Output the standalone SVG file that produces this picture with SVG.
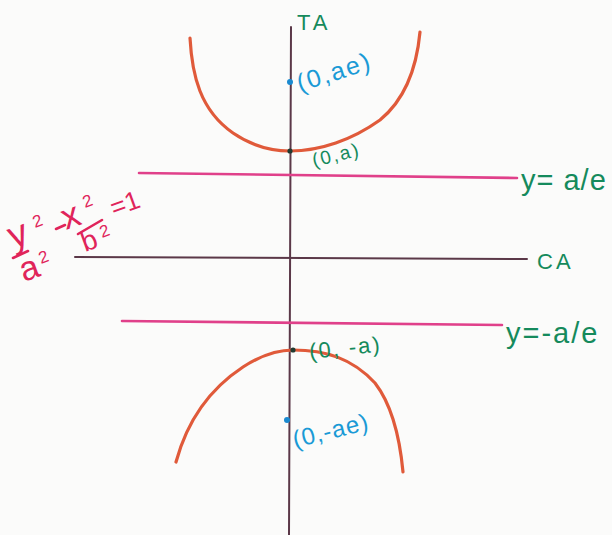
<svg xmlns="http://www.w3.org/2000/svg" width="612" height="535" viewBox="0 0 612 535">
<defs>
<style>
.axis{stroke:#5b3848;stroke-width:2;fill:none;stroke-linecap:round}
.dir{stroke:#e0408a;stroke-width:2.6;fill:none;stroke-linecap:round}
.curve{stroke:#e05a3a;stroke-width:3.2;fill:none;stroke-linecap:round}
.lbl{font-family:"Liberation Sans",Arial,sans-serif;fill:#158a5c}
.blue{font-family:"Liberation Sans",Arial,sans-serif;fill:#1a9ad6}
.eq{font-family:"Liberation Sans",Arial,sans-serif;fill:#e0245a}
.eqs{stroke:#e0245a;stroke-width:2.6;fill:none;stroke-linecap:round}
</style>
</defs>
<rect width="612" height="535" fill="#fbfbfa"/>
<g id="connectors">
<path id="transverse-axis" class="axis" d="M291,27 L289,535"/>
<path id="conjugate-axis" class="axis" d="M75,257 L527,259"/>
<path id="directrix-upper" class="dir" d="M139,173 L517,178"/>
<path id="directrix-lower" class="dir" d="M122,321 L502,325"/>
</g>
<g id="upper-branch">
<path class="curve" d="M190,38 C192,75 200,110 233,133 C252,146 272,151 290,151 C320,151 352,140 380,120 C402,102 416,75 420,32"/>
</g>
<g id="lower-branch">
<path class="curve" d="M176,462 C186,425 205,392 243,367 C260,356 276,350 293,350 C325,350 352,358 375,383 C392,405 400,440 403,472"/>
</g>
<g id="focus-upper">
<circle cx="290" cy="82" r="3" fill="#1a8ad0"/>
<text class="blue" font-size="25" letter-spacing="2" transform="translate(300,92) rotate(-18)">(0,ae)</text>
</g>
<g id="vertex-upper">
<circle cx="290" cy="151" r="2.6" fill="#203a30"/>
<text class="lbl" font-size="19" letter-spacing="2" transform="translate(314,167) rotate(-14)">(0,a)</text>
</g>
<g id="vertex-lower">
<circle cx="293" cy="350" r="2.6" fill="#203a30"/>
<text class="lbl" font-size="22" letter-spacing="2" transform="translate(310,359) rotate(-6)">(0, -a)</text>
</g>
<g id="focus-lower">
<circle cx="287" cy="420" r="3" fill="#1a8ad0"/>
<text class="blue" font-size="24" letter-spacing="1" transform="translate(295,448) rotate(-14)">(0,-ae)</text>
</g>
<g id="label-TA">
<text class="lbl" font-size="22" letter-spacing="4" x="297" y="30">TA</text>
</g>
<g id="label-CA">
<text class="lbl" font-size="22" letter-spacing="3" x="537" y="269">CA</text>
</g>
<g id="label-directrix-upper">
<text class="lbl" font-size="29" letter-spacing="1" x="521" y="190">y= a/e</text>
</g>
<g id="label-directrix-lower">
<text class="lbl" font-size="29" letter-spacing="2" x="506" y="343">y=-a/e</text>
</g>
<g id="equation">
<text class="eq" font-size="38" transform="translate(13,249) rotate(-20)">y</text>
<text class="eq" font-size="17" transform="translate(35,228) rotate(-20)">2</text>
<path class="eqs" d="M13,258 L28,251"/>
<text class="eq" font-size="34" transform="translate(24,282) rotate(-20)">a</text>
<text class="eq" font-size="17" transform="translate(41,264) rotate(-20)">2</text>
<path class="eqs" d="M56,229 L65,225"/>
<text class="eq" font-size="36" transform="translate(66,230) rotate(-20)">x</text>
<text class="eq" font-size="17" transform="translate(85,208) rotate(-20)">2</text>
<path class="eqs" d="M78,234 L102,220"/>
<text class="eq" font-size="28" transform="translate(85,252) rotate(-20)">b</text>
<text class="eq" font-size="17" transform="translate(102,238) rotate(-20)">2</text>
<text class="eq" font-size="26" transform="translate(114,217) rotate(-20)">=1</text>
</g>
</svg>
